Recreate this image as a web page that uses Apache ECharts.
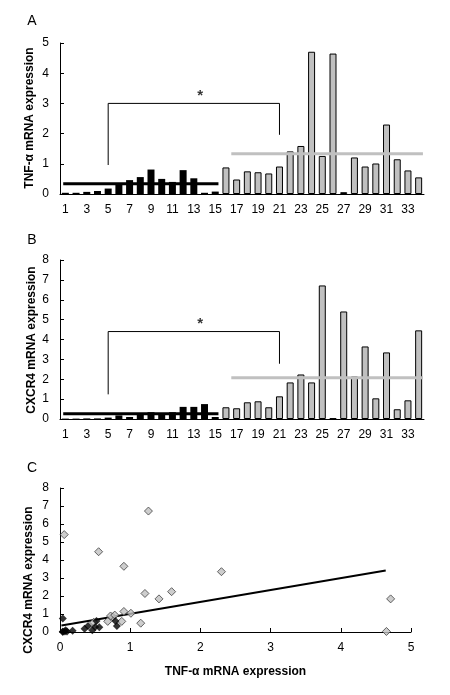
<!DOCTYPE html>
<html><head><meta charset="utf-8">
<script src="https://cdn.jsdelivr.net/npm/echarts@6/dist/echarts.min.js"></script>
<style>html,body{margin:0;padding:0;background:#fff}#c{width:450px;height:695px}</style>
</head><body><div id="c"></div>
<script>
// ---- data ----
const patients = ['1','2','3','4','5','6','7','8','9','10','11','12','13','14','15','16','17','18','19','20','21','22','23','24','25','26','27','28','29','30','31','32','33','34'];
const tnf   = [0.04,0.04,0.07,0.10,0.18,0.35,0.46,0.56,0.81,0.50,0.40,0.79,0.52,0.04,0.08,
               0.88,0.48,0.75,0.72,0.68,0.91,1.41,1.59,4.71,1.26,4.65,0.06,1.21,0.91,1.01,2.30,1.15,0.78,0.55];
const cxcr4 = [0.02,0.02,0.03,0.03,0.07,0.18,0.10,0.27,0.34,0.28,0.34,0.61,0.61,0.75,0.10,
               0.59,0.54,0.84,0.89,0.59,1.14,1.84,2.24,1.84,6.72,0.03,5.41,2.14,3.65,1.04,3.35,0.49,0.94,4.46];
const group1Count = 15;               // patients 1-15 black, 16-34 grey
const tnfMeans   = [0.34, 1.33];      // group means drawn as lines
const cxcr4Means = [0.27, 2.08];
const bracketTnf   = [0.96, 3.0, 1.96]; // left leg bottom, top, right leg bottom
const bracketCxcr4 = [1.24, 4.4, 2.78];
const bracketFrom = '5', bracketTo = '21';
const trendX = [0.02, 4.64];
const trendY = [0.36, 3.42];
const tnfTicks = [0,1,2,3,4,5];
const cxcrTicks = [0,1,2,3,4,5,6,7,8];
const scatterXTicks = [0,1,2,3,4,5];
const tnfName = 'TNF-α mRNA expression';
const cxcrName = 'CXCR4 mRNA expression';

// ---- helpers ----
const FONT = '"Liberation Sans", Arial, sans-serif';
const BLACK = '#000', GREY = '#c0c0c0';
const N = patients.length;
const barData = vals => vals.map((v,i)=>({value:v,itemStyle:{color:i<group1Count?BLACK:GREY,borderColor:BLACK,borderWidth:i<group1Count?0:1}}));
const idx = c => patients.indexOf(c) + 0.5;
function meanLines(means, xi, yi){
  return [
    {type:'line',xAxisIndex:xi,yAxisIndex:yi,data:[[0.3,means[0]],[group1Count-0.2,means[0]]],symbol:'none',silent:true,lineStyle:{color:BLACK,width:3},z:5},
    {type:'line',xAxisIndex:xi,yAxisIndex:yi,data:[[group1Count+1,means[1]],[N-0.1,means[1]]],symbol:'none',silent:true,lineStyle:{color:GREY,width:3},z:5}
  ];
}
function bracket(b, xi, yi){
  const a = idx(bracketFrom), z = idx(bracketTo);
  return [
    {type:'line',xAxisIndex:xi,yAxisIndex:yi,data:[[a,b[0]],[a,b[1]],[z,b[1]],[z,b[2]]],symbol:'none',silent:true,lineStyle:{color:BLACK,width:1},z:6},
    {type:'scatter',xAxisIndex:xi,yAxisIndex:yi,data:[[(a+z)/2+0.6,b[1]]],symbolSize:1,itemStyle:{color:'transparent'},
     label:{show:true,formatter:'*',position:'top',distance:0,color:BLACK,fontSize:15,fontWeight:'bold',fontFamily:FONT},z:6}
  ];
}
const axisLab = {color:BLACK,fontSize:12,fontFamily:FONT};
const nameStyle = {color:BLACK,fontSize:12,fontWeight:'bold',fontFamily:FONT};
function catAxis(g){return {type:'category',gridIndex:g,data:patients,boundaryGap:true,
  axisLine:{lineStyle:{color:BLACK,width:1}},axisTick:{show:false},
  axisLabel:Object.assign({interval:1,margin:10},axisLab)};}
function hiddenX(g){return {type:'value',gridIndex:g,min:0,max:N,show:false};}
function valY(g,ticks){return {type:'value',gridIndex:g,min:ticks[0],max:ticks[ticks.length-1],interval:ticks[1]-ticks[0],
  axisLine:{show:true,lineStyle:{color:BLACK}},axisTick:{show:true,inside:true,length:4,lineStyle:{color:BLACK}},
  splitLine:{show:false},axisLabel:Object.assign({margin:11},axisLab)};}
function vName(text,x,y){return {type:'text',x:x,y:y,rotation:Math.PI/2,
  style:{text:text,font:'bold 12px '+FONT,fill:BLACK,textAlign:'center',textVerticalAlign:'middle'}};}
function letter(t,x,y){return {type:'text',x:x,y:y,style:{text:t,font:'14px '+FONT,fill:BLACK,textAlign:'center',textVerticalAlign:'middle'}};}

const scatterG1 = tnf.slice(0,group1Count).map((v,i)=>[v,cxcr4[i]]);
const scatterG2 = tnf.slice(group1Count).map((v,i)=>[v,cxcr4[i+group1Count]]);

const option = {
  animation:false,
  backgroundColor:'#fff',
  grid:[
    {left:60,right:26,top:43,height:151},
    {left:60,right:26,top:260,height:159},
    {left:60,width:351,top:488,height:144}
  ],
  xAxis:[
    catAxis(0), catAxis(1), hiddenX(0), hiddenX(1),
    {type:'value',gridIndex:2,min:scatterXTicks[0],max:scatterXTicks[scatterXTicks.length-1],interval:1,
     axisLine:{lineStyle:{color:BLACK}},axisTick:{show:true,inside:true,length:4,lineStyle:{color:BLACK}},
     splitLine:{show:false},axisLabel:Object.assign({margin:10},axisLab),
     name:tnfName,nameLocation:'middle',nameGap:34,nameMoveOverlap:false,nameTextStyle:nameStyle}
  ],
  yAxis:[ valY(0,tnfTicks), valY(1,cxcrTicks), valY(2,cxcrTicks) ],
  graphic:[
    letter('A',32,21), letter('B',32,240), letter('C',32,468),
    vName(tnfName,30,118), vName(cxcrName,32,340), vName(cxcrName,29,580)
  ],
  series:[
    {type:'bar',xAxisIndex:0,yAxisIndex:0,data:barData(tnf),barWidth:7,z:2},
    ...meanLines(tnfMeans,2,0),
    ...bracket(bracketTnf,2,0),
    {type:'bar',xAxisIndex:1,yAxisIndex:1,data:barData(cxcr4),barWidth:7,z:2},
    ...meanLines(cxcr4Means,3,1),
    ...bracket(bracketCxcr4,3,1),
    {type:'line',xAxisIndex:4,yAxisIndex:2,data:[[trendX[0],trendY[0]],[trendX[1],trendY[1]]],symbol:'none',lineStyle:{color:BLACK,width:2},z:3},
    {type:'scatter',xAxisIndex:4,yAxisIndex:2,data:scatterG2,symbol:'diamond',symbolSize:8,itemStyle:{color:GREY,borderColor:'#404040',borderWidth:1},z:4},
    {type:'scatter',xAxisIndex:4,yAxisIndex:2,data:scatterG1,symbol:'diamond',symbolSize:8,itemStyle:{color:BLACK},z:5}
  ]
};
echarts.init(document.getElementById('c'),null,{renderer:'canvas'}).setOption(option);
</script></body></html>
